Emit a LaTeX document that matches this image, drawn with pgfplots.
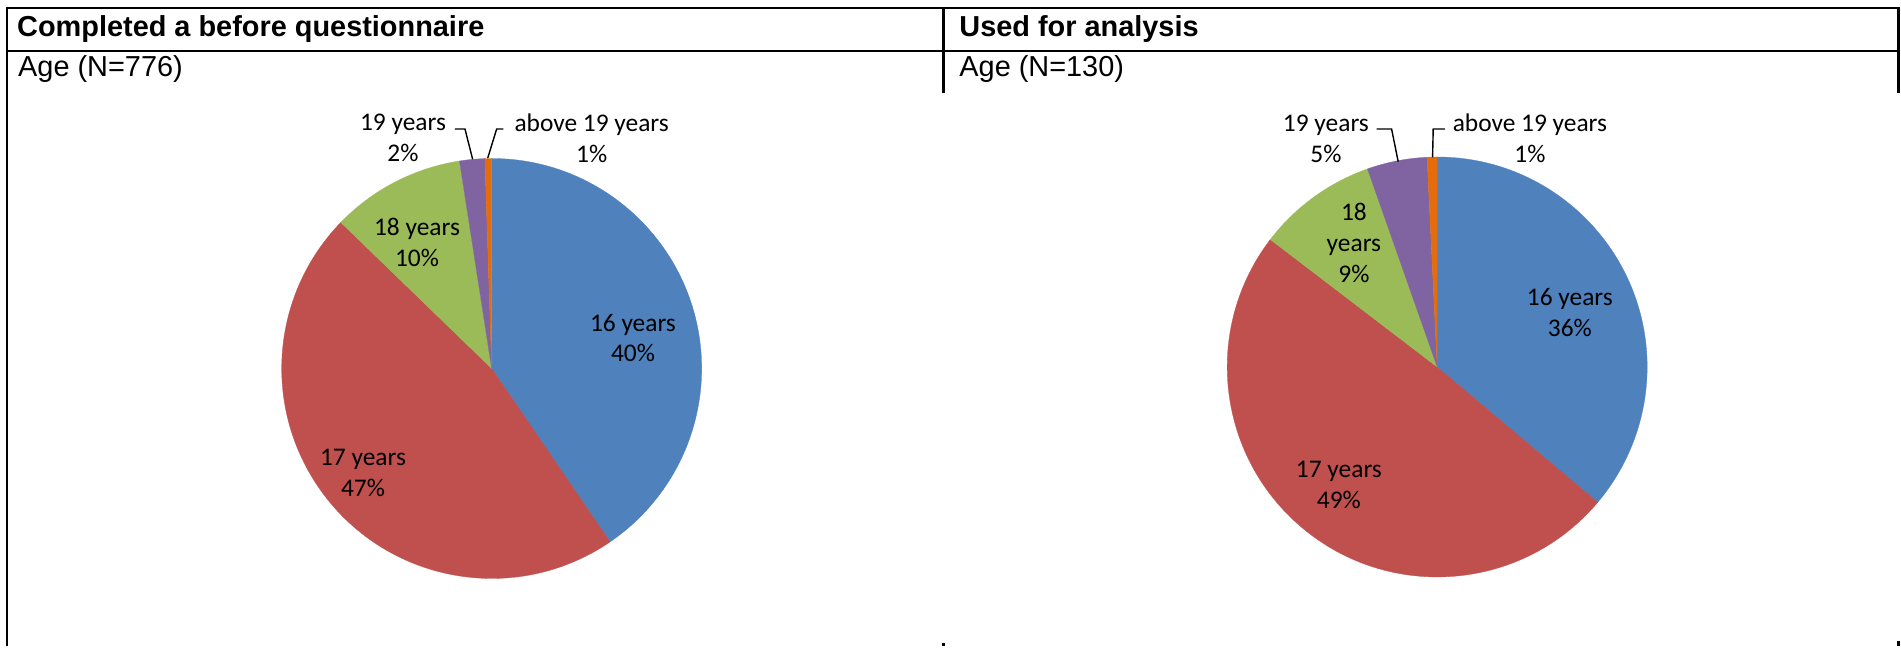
\documentclass[border=0pt]{standalone}
\usepackage{pgfplots}
\usepackage{pgfplotstable}
\pgfplotsset{compat=1.18}
\usepackage{fontspec}
\setmainfont{Liberation Sans}
\newfontfamily\calfont{Carlito}

% slice colours, in row order
\definecolor{s0}{HTML}{4F81BD}
\definecolor{s1}{HTML}{C0504D}
\definecolor{s2}{HTML}{9BBB59}
\definecolor{s3}{HTML}{8064A2}
\definecolor{s4}{HTML}{E46C0A}

% respondents by age: 16, 17, 18, 19, above 19 years
\pgfplotstableread{
age count
16 314
17 363
18 80
19 15
20 4
}\ageBefore
\pgfplotstableread{
age count
16 47
17 64
18 12
19 6
20 1
}\ageAnalysis

% #1 table, #2 list macro of start/end angles, #3 prefix for rounded percentages
\newcommand\makeslices[3]{%
  \pgfplotstablegetrowsof{#1}%
  \pgfmathtruncatemacro\lastrow{\pgfplotsretval-1}%
  \gdef\tot{0}%
  \foreach \i in {0,...,\lastrow}{%
    \pgfplotstablegetelem{\i}{count}\of#1%
    \pgfmathparse{\tot+\pgfplotsretval}\xdef\tot{\pgfmathresult}}%
  \gdef\cum{0}\gdef#2{}%
  \foreach \i in {0,...,\lastrow}{%
    \pgfplotstablegetelem{\i}{count}\of#1%
    \pgfmathtruncatemacro\p{round(100*(\pgfplotsretval/\tot))}%
    \expandafter\xdef\csname #3\i\endcsname{\p}%
    \pgfmathsetmacro\st{90-360*(\cum/\tot)}%
    \pgfmathparse{\cum+\pgfplotsretval}\xdef\cum{\pgfmathresult}%
    \pgfmathsetmacro\en{90-360*(\cum/\tot)}%
    \ifnum\i=0 \xdef#2{\st/\en/\i}\else\xdef#2{#2,\st/\en/\i}\fi}%
}
\makeslices{\ageBefore}{\slicesA}{pA}
\makeslices{\ageAnalysis}{\slicesB}{pB}
\newcommand\pct[2]{\csname #1#2\endcsname\%}

\tikzset{
  lbl/.style={font=\calfont\fontsize{25.5}{31}\selectfont, align=center, inner sep=0pt},
  lead/.style={line width=1.4bp, black},
  grid/.style={line width=2.5bp, black},
}

\begin{document}
\begin{tikzpicture}
\begin{axis}[
  scale only axis, width=1901bp, height=646bp,
  xmin=0, xmax=1901, ymin=0, ymax=646, y dir=reverse,
  hide axis, clip=false,
]
\path (axis cs:0,0) rectangle (axis cs:1901,646);

% pie slices, clockwise from 12 o'clock
\pgfplotsextra{
  \foreach \st/\en/\c in \slicesA {
    \fill[s\c, draw=s\c, line width=0.3bp] (axis cs:491.7,368.5) -- ([shift={(\st:210bp)}]axis cs:491.7,368.5)
      arc[start angle=\st, end angle=\en, radius=210bp] -- cycle;
  }
  \foreach \st/\en/\c in \slicesB {
    \fill[s\c, draw=s\c, line width=0.3bp] (axis cs:1437.3,367) -- ([shift={(\st:210bp)}]axis cs:1437.3,367)
      arc[start angle=\st, end angle=\en, radius=210bp] -- cycle;
  }
}

% table rules
\draw[grid] (axis cs:6,7.8) -- (axis cs:1899.9,7.8);
\draw[grid] (axis cs:6,51) -- (axis cs:1899.9,51);
\draw[grid] (axis cs:7.2,6.6) -- (axis cs:7.2,646);
\draw[grid] (axis cs:943.7,6.6) -- (axis cs:943.7,93.3);
\draw[grid] (axis cs:1898.6,6.6) -- (axis cs:1898.6,93.3);
\draw[grid] (axis cs:943.7,643) -- (axis cs:943.7,646);
\draw[grid] (axis cs:1898.6,641) -- (axis cs:1898.6,646);

% headers
\node[anchor=base west, inner sep=0pt, font=\bfseries\fontsize{29}{34}\selectfont] at (axis cs:17,37) {Completed a before questionnaire};
\node[anchor=base west, inner sep=0pt, font=\bfseries\fontsize{29}{34}\selectfont] at (axis cs:959.3,37) {Used for analysis};
\node[anchor=base west, inner sep=0pt, font=\fontsize{29}{34}\selectfont] at (axis cs:18,76.5) {Age (N=776)};
\node[anchor=base west, inner sep=0pt, font=\fontsize{29}{34}\selectfont] at (axis cs:959.3,76.5) {Age (N=130)};

% data labels, left pie
\node[lbl] at (axis cs:633,338) {16 years\\\pct{pA}{0}};
\node[lbl] at (axis cs:363,473) {17 years\\\pct{pA}{1}};
\node[lbl] at (axis cs:417,242.5) {18 years\\\pct{pA}{2}};
\node[lbl] at (axis cs:403,138) {19 years\\\pct{pA}{3}};
\node[lbl] at (axis cs:591.7,138) {above 19 years\\\pct{pA}{4}};
\draw[lead] (axis cs:455,129) -- (axis cs:465,129) -- (axis cs:472.7,159.3);
\draw[lead] (axis cs:503.3,129) -- (axis cs:496.7,129) -- (axis cs:487.7,158.3);

% data labels, right pie
\node[lbl] at (axis cs:1570,312.3) {16 years\\\pct{pB}{0}};
\node[lbl] at (axis cs:1339,485) {17 years\\\pct{pB}{1}};
\node[lbl] at (axis cs:1354,242.7) {18\\years\\\pct{pB}{2}};
\node[lbl] at (axis cs:1326,138.5) {19 years\\\pct{pB}{3}};
\node[lbl] at (axis cs:1530,138.5) {above 19 years\\\pct{pB}{4}};
\draw[lead] (axis cs:1376.7,129) -- (axis cs:1391.7,129) -- (axis cs:1398.3,161.7);
\draw[lead] (axis cs:1445,129) -- (axis cs:1433.3,129) -- (axis cs:1432.7,157.3);
\end{axis}
\end{tikzpicture}
\end{document}
